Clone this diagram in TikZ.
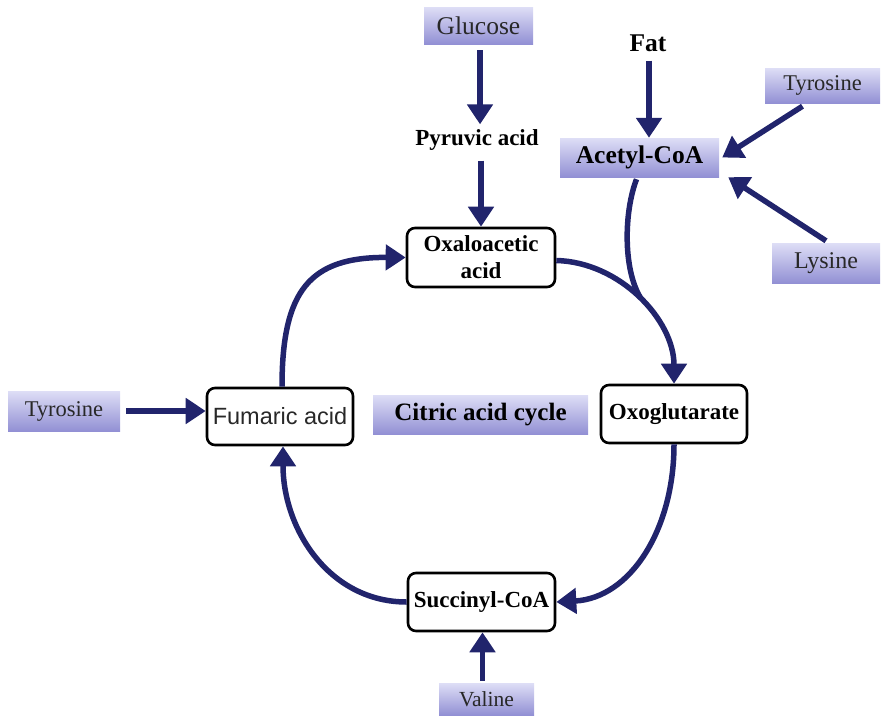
\documentclass[tikz,border=0pt]{standalone}
\usepackage{fontspec}
\setmainfont{Liberation Serif}
\newfontfamily\arialf{Liberation Sans}
\usetikzlibrary{arrows.meta,calc}
\definecolor{navy}{RGB}{33,36,108}
\definecolor{lavtop}{RGB}{222,222,246}
\definecolor{lavbot}{RGB}{146,144,212}
\definecolor{txtgray}{RGB}{40,40,40}
\begin{document}
\begin{tikzpicture}[x=1pt,y=-1pt,
  arr/.style={draw=navy,line width=5.5pt,-{Triangle[width=25pt,length=20pt]}},
  conn/.style={draw=navy,line width=5.5pt},
  lav/.style={top color=lavtop,bottom color=lavbot,draw=none,inner sep=0pt,text=txtgray},
  cyc/.style={draw=black,line width=2.6pt,rounded corners=8pt,fill=white,inner sep=0pt,
    minimum width=146pt,minimum height=58pt,align=center,
    font=\bfseries\fontsize{23}{27}\selectfont},
  plain/.style={inner sep=0pt}]
\useasboundingbox (0,0) rectangle (882,715);

% shaded label boxes
\node[lav,minimum width=109pt,minimum height=37pt,font=\fontsize{25.5}{28}\selectfont] (glucose) at (478.5,25.5) {Glucose};
\node[lav,minimum width=159pt,minimum height=39pt,font=\bfseries\fontsize{25.5}{28}\selectfont,text=black] (acetyl) at (639.5,157.5) {Acetyl-CoA};
\node[lav,minimum width=115pt,minimum height=35pt,font=\fontsize{22.5}{26}\selectfont] (tyr1) at (822.5,85.5) {Tyrosine};
\node[lav,minimum width=108pt,minimum height=40pt,font=\fontsize{24}{27}\selectfont] (lysine) at (826,263) {Lysine};
\node[lav,minimum width=112pt,minimum height=40pt,font=\fontsize{22.5}{26}\selectfont] (tyr2) at (64,411) {Tyrosine};
\node[lav,minimum width=215pt,minimum height=39pt,font=\bfseries\fontsize{25}{28}\selectfont,text=black] (citric) at (480.5,414.5) {Citric acid cycle};
\node[lav,minimum width=95pt,minimum height=32pt,font=\fontsize{21.5}{25}\selectfont] (valine) at (486.5,699) {Valine};

% plain labels
\node[plain,font=\bfseries\fontsize{23}{26}\selectfont] (pyruvic) at (477,140) {Pyruvic acid};
\node[plain,font=\bfseries\fontsize{25.5}{28}\selectfont] (fat) at (648,43) {Fat};

% cycle boxes
\node[cyc,minimum width=148pt,minimum height=59pt] (oxalo) at (481,257.5) {Oxaloacetic\\acid};
\node[cyc] (oxo) at (674,414) {Oxoglutarate};
\node[cyc,minimum width=147pt] (succ) at (481.5,602) {Succinyl-CoA};
\node[cyc,minimum height=57pt,font=\arialf\fontsize{23.5}{27}\selectfont,text=txtgray] (fum) at (280,416.5) {Fumaric acid};

% straight arrows
\draw[arr,shorten <=6pt,shorten >=5pt] ([xshift=1.5pt]glucose.south) -- ([xshift=1.5pt]glucose.south |- pyruvic.north);
\draw[arr,shorten <=10pt] ([xshift=4pt]pyruvic.south) -- ([xshift=4pt]pyruvic.south |- oxalo.north);
\draw[arr,shorten <=9pt] ([xshift=1pt]fat.south) -- ([xshift=1pt]fat.south |- acetyl.north);
\draw[arr] ([xshift=-20pt,yshift=-3pt]tyr1.south) -- ([xshift=3pt]acetyl.east);
\draw[arr] ([yshift=2pt]lysine.north) -- ([xshift=9pt]acetyl.south east);
\draw[arr,shorten <=6pt] (tyr2.east) -- (tyr2.east -| fum.west);
\draw[arr,shorten <=2pt] ([xshift=-4pt]valine.north) -- ([xshift=-4pt]valine.north |- succ.south);

% cycle arcs
\coordinate (join) at (640,297);
\draw[arr] ([yshift=-3pt]oxalo.east) .. controls (620,262) and (674,320) .. (oxo.north);
\draw[arr] (oxo.south) .. controls (674,530) and (630,598) .. (succ.east);
\draw[arr] (succ.west) .. controls (330,602) and (283,530) .. ([xshift=3pt]fum.south);
\draw[arr] ([xshift=2pt]fum.north) .. controls (282,290) and (310,257) .. (oxalo.west);

% acetyl-CoA feed into cycle
\draw[conn] ([xshift=-3pt,yshift=-2pt]acetyl.south) .. controls (624,212) and (623,268) .. (join);
\end{tikzpicture}
\end{document}
